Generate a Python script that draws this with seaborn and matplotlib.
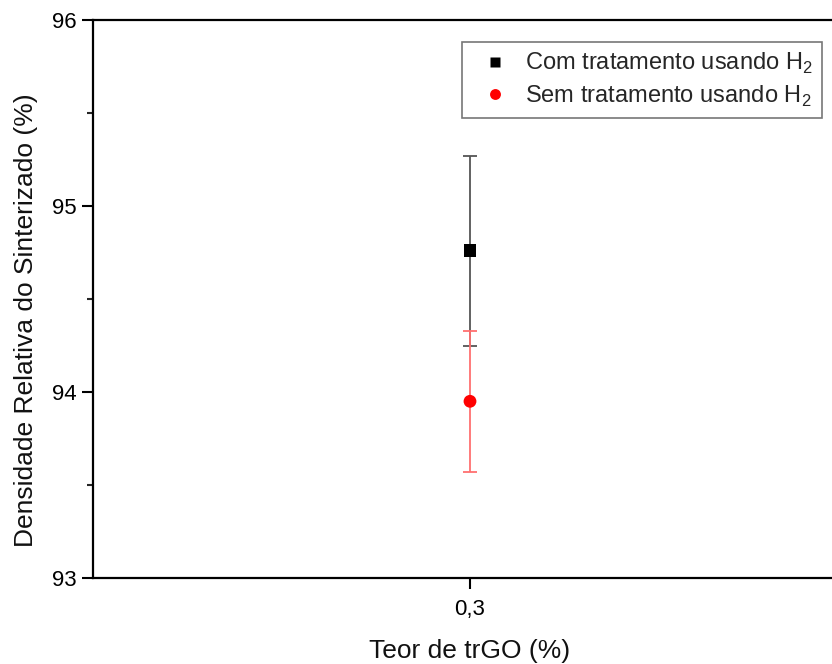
import matplotlib
matplotlib.use("Agg")
import matplotlib.pyplot as plt
import seaborn as sns
import pandas as pd
from matplotlib.ticker import FixedLocator, MultipleLocator

# Relative density of the sintered samples at 0.3 % trGO
series = ["Com tratamento usando H$_2$", "Sem tratamento usando H$_2$"]
teor = [0.3, 0.3]
densidade = [94.76, 93.95]
erro = [0.51, 0.38]
cores = ["#000000", "#ff0000"]
cores_erro = ["#555555", "#ff7070"]
marcadores = ["s", "o"]

df = pd.DataFrame({"serie": series, "teor": teor, "densidade": densidade, "erro": erro})

sns.set_style("ticks")
plt.rcParams["font.family"] = ["Liberation Sans", "DejaVu Sans"]
plt.rcParams["mathtext.fontset"] = "custom"
plt.rcParams["mathtext.rm"] = "Liberation Sans"

fig = plt.figure(figsize=(8.32, 6.64), dpi=100)
ax = fig.add_axes([93 / 832, 86 / 664, 754 / 832, 558 / 664])

# error bars first, then markers on top
for i, row in df.iterrows():
    ax.errorbar(row["teor"], row["densidade"], yerr=row["erro"], fmt="none",
                ecolor=cores_erro[i], elinewidth=1.3, capsize=4.7, capthick=1.3, zorder=2)

sns.scatterplot(data=df, x="teor", y="densidade", hue="serie", style="serie",
                palette=dict(zip(series, cores)), markers=dict(zip(series, marcadores)),
                s=85, edgecolor="none", ax=ax, zorder=3)

ax.set_xlim(0.2, 0.4)
ax.set_ylim(93, 96)
ax.xaxis.set_major_locator(FixedLocator([0.3]))
ax.set_xticklabels(["0,3"])
ax.yaxis.set_major_locator(MultipleLocator(1))
ax.yaxis.set_minor_locator(MultipleLocator(0.5))
ax.tick_params(axis="both", which="major", direction="out", length=8, width=1.5,
               labelsize=16, colors="black")
ax.tick_params(axis="y", which="minor", direction="out", length=4, width=1.5)
ax.tick_params(axis="x", pad=7)

for side in ["left", "bottom", "top", "right"]:
    ax.spines[side].set_visible(True)
    ax.spines[side].set_linewidth(1.6)
    ax.spines[side].set_color("black")

ax.set_xlabel("Teor de trGO (%)", fontsize=19, labelpad=14, color="#111111")
ax.set_ylabel("Densidade Relativa do Sinterizado (%)", fontsize=19, color="#111111")
ax.yaxis.set_label_coords(-0.073, 0.462)

handles, labels = ax.get_legend_handles_labels()
leg = ax.legend(handles, labels, loc="upper right", bbox_to_anchor=(0.967, 0.961),
                borderaxespad=0, fontsize=17, frameon=True, fancybox=False,
                edgecolor="#555555", handletextpad=0.25, borderpad=0.4,
                labelspacing=0.3, markerscale=0.85)
leg.get_frame().set_linewidth(1.2)

fig.savefig("out.png", dpi=100, facecolor="white")
